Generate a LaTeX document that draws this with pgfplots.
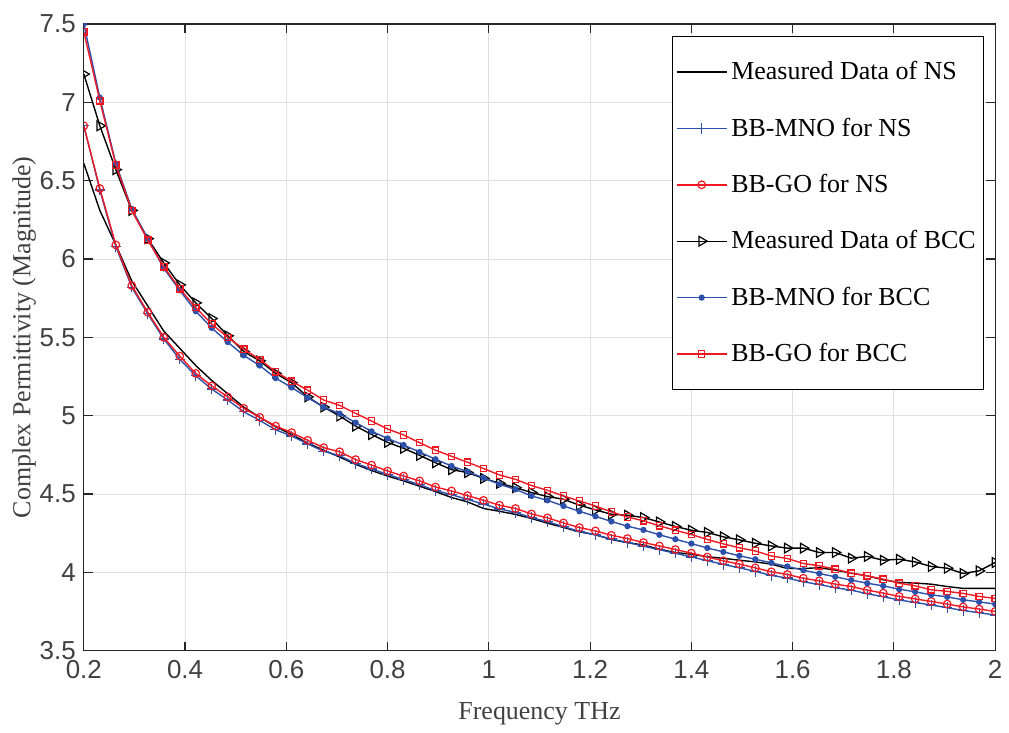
\documentclass[border=0pt]{standalone}
\usepackage{pgfplots}
\usepackage{pgfplotstable}
\pgfplotsset{compat=1.18}
\usepackage{fontspec}
\setmainfont{Liberation Serif}
\setsansfont{Liberation Sans}
\definecolor{mblue}{RGB}{45,80,170}
\definecolor{mred}{RGB}{240,25,35}
\definecolor{axgray}{RGB}{38,38,38}
\definecolor{tkgray}{RGB}{64,64,64}
\definecolor{grdgray}{RGB}{224,224,224}

\pgfplotstableread{
x mns mnons gons mbcc mnobcc gobcc
0.2000 6.61 6.85 6.85 7.18 7.50 7.45
0.2316 6.31 6.44 6.45 6.85 7.03 7.01
0.2632 6.09 6.08 6.09 6.57 6.61 6.60
0.2947 5.86 5.82 5.83 6.31 6.32 6.31
0.3263 5.70 5.65 5.66 6.13 6.13 6.12
0.3579 5.54 5.49 5.50 5.975 5.94 5.95
0.3895 5.43 5.36 5.38 5.835 5.80 5.81
0.4211 5.32 5.255 5.27 5.72 5.667 5.69
0.4526 5.225 5.17 5.19 5.62 5.56 5.585
0.4842 5.14 5.10 5.12 5.51 5.47 5.50
0.5158 5.055 5.025 5.047 5.41 5.385 5.425
0.5474 4.99 4.97 4.99 5.35 5.32 5.36
0.5789 4.93 4.91 4.934 5.27 5.24 5.28
0.6105 4.88 4.87 4.892 5.21 5.18 5.22
0.6421 4.825 4.82 4.843 5.12 5.115 5.163
0.6737 4.78 4.773 4.796 5.055 5.055 5.10
0.7053 4.736 4.745 4.77 4.998 5.013 5.066
0.7368 4.69 4.695 4.72 4.934 4.956 5.015
0.7684 4.65 4.66 4.685 4.88 4.90 4.966
0.8000 4.615 4.625 4.647 4.83 4.855 4.915
0.8316 4.584 4.592 4.615 4.792 4.813 4.877
0.8632 4.55 4.56 4.584 4.747 4.768 4.828
0.8947 4.516 4.522 4.545 4.70 4.722 4.78
0.9263 4.478 4.496 4.52 4.656 4.679 4.741
0.9579 4.45 4.466 4.49 4.637 4.643 4.703
0.9895 4.408 4.436 4.46 4.60 4.603 4.663
1.0211 4.39 4.405 4.429 4.569 4.562 4.622
1.0526 4.37 4.383 4.408 4.541 4.53 4.594
1.0842 4.344 4.35 4.373 4.51 4.488 4.554
1.1158 4.314 4.324 4.348 4.484 4.46 4.524
1.1474 4.287 4.292 4.316 4.467 4.424 4.488
1.1789 4.259 4.262 4.286 4.429 4.39 4.456
1.2105 4.24 4.24 4.265 4.399 4.358 4.424
1.2421 4.21 4.213 4.237 4.371 4.325 4.386
1.2737 4.19 4.192 4.216 4.365 4.295 4.354
1.3053 4.175 4.167 4.191 4.35 4.271 4.329
1.3368 4.148 4.145 4.169 4.322 4.24 4.297
1.3684 4.127 4.122 4.146 4.293 4.212 4.269
1.4000 4.116 4.099 4.123 4.269 4.184 4.242
1.4316 4.10 4.075 4.098 4.255 4.156 4.21
1.4632 4.09 4.051 4.074 4.227 4.131 4.182
1.4947 4.078 4.03 4.053 4.208 4.106 4.157
1.5263 4.067 4.006 4.029 4.186 4.084 4.137
1.5579 4.053 3.981 4.004 4.169 4.061 4.105
1.5895 4.025 3.964 3.987 4.155 4.038 4.089
1.6211 4.025 3.94 3.963 4.155 4.014 4.057
1.6526 4.03 3.923 3.946 4.127 3.993 4.042
1.6842 4.015 3.902 3.925 4.127 3.972 4.021
1.7158 3.995 3.887 3.91 4.091 3.951 3.995
1.7474 3.978 3.864 3.887 4.102 3.931 3.978
1.7789 3.953 3.845 3.868 4.078 3.914 3.957
1.8105 3.936 3.824 3.847 4.084 3.893 3.931
1.8421 3.932 3.808 3.831 4.067 3.876 3.914
1.8737 3.925 3.792 3.815 4.038 3.857 3.889
1.9053 3.91 3.775 3.798 4.027 3.844 3.879
1.9368 3.898 3.757 3.78 3.993 3.825 3.866
1.9684 3.898 3.743 3.766 4.01 3.812 3.847
2.0000 3.898 3.728 3.751 4.063 3.798 3.834
}\datatable

\begin{document}
\begin{tikzpicture}
\begin{axis}[
  scale only axis,
  width=456.5pt, height=314pt,
  xmin=0.2, xmax=2, ymin=3.5, ymax=7.5,
  xtick={0.2,0.4,0.6,0.8,1,1.2,1.4,1.6,1.8,2},
  xticklabels={0.2,0.4,0.6,0.8,1,1.2,1.4,1.6,1.8,2},
  ytick={3.5,4,4.5,5,5.5,6,6.5,7,7.5},
  yticklabels={3.5,4,4.5,5,5.5,6,6.5,7,7.5},
  tick pos=both, tick align=inside,
  major tick length=4.5pt,
  grid=major,
  grid style={grdgray, line width=0.5pt},
  axis line style={axgray, line width=0.6pt},
  every tick/.style={axgray, line width=0.6pt},
  ticklabel style={font=\sffamily\fontsize{13}{15}\selectfont, text=tkgray},
  xticklabel style={yshift=-1.5pt},
  yticklabel style={xshift=-0.5pt},
  xlabel={Frequency THz},
  ylabel={Complex Permittivity (Magnitude)},
  label style={font=\fontsize{13}{15}\selectfont, text=tkgray},
  xlabel style={yshift=-5pt},
  ylabel style={yshift=-5pt},
  clip marker paths=true,
  legend cell align=left,
  legend style={at={([xshift=-5.5pt,yshift=-6pt]rel axis cs:1,1)}, anchor=north east,
    draw=black, line width=0.5pt, font=\fontsize{13}{15}\selectfont,
    inner xsep=2pt, inner ysep=10.5pt, row sep=13.6pt},
  legend image code/.code={\draw[mark repeat=2, mark phase=2] plot coordinates {(0pt,0pt) (12.5pt,0pt) (25pt,0pt)};},
]
\addplot[black, line width=0.7pt, no markers] table[x=x, y=mns] {\datatable};
\addlegendentry{Measured Data of NS}
\addplot[mblue, line width=0.7pt, mark=+, mark size=2.6pt, mark options={solid, line width=0.6pt}] table[x=x, y=mnons] {\datatable};
\addlegendentry{BB-MNO for NS}
\addplot[mred, line width=0.7pt, mark=o, mark size=1.9pt, mark options={solid, line width=0.6pt}] table[x=x, y=gons] {\datatable};
\addlegendentry{BB-GO for NS}
\addplot[black, line width=0.7pt, mark=triangle, mark size=2.8pt, mark options={solid, rotate=-90, line width=0.6pt}] table[x=x, y=mbcc] {\datatable};
\addlegendentry{Measured Data of BCC}
\addplot[mblue, line width=0.7pt, mark=*, mark size=1.2pt, mark options={solid, fill=mblue}] table[x=x, y=mnobcc] {\datatable};
\addlegendentry{BB-MNO for BCC}
\addplot[mred, line width=0.7pt, mark=square, mark size=1.6pt, mark options={solid, line width=0.6pt}] table[x=x, y=gobcc] {\datatable};
\addlegendentry{BB-GO for BCC}
\coordinate (bl) at (rel axis cs:0,0);
\coordinate (tr) at (rel axis cs:1,1);
\end{axis}
\path ([xshift=-42pt,yshift=-36.5pt]bl) ([xshift=6pt,yshift=12pt]tr);
\end{tikzpicture}
\end{document}
